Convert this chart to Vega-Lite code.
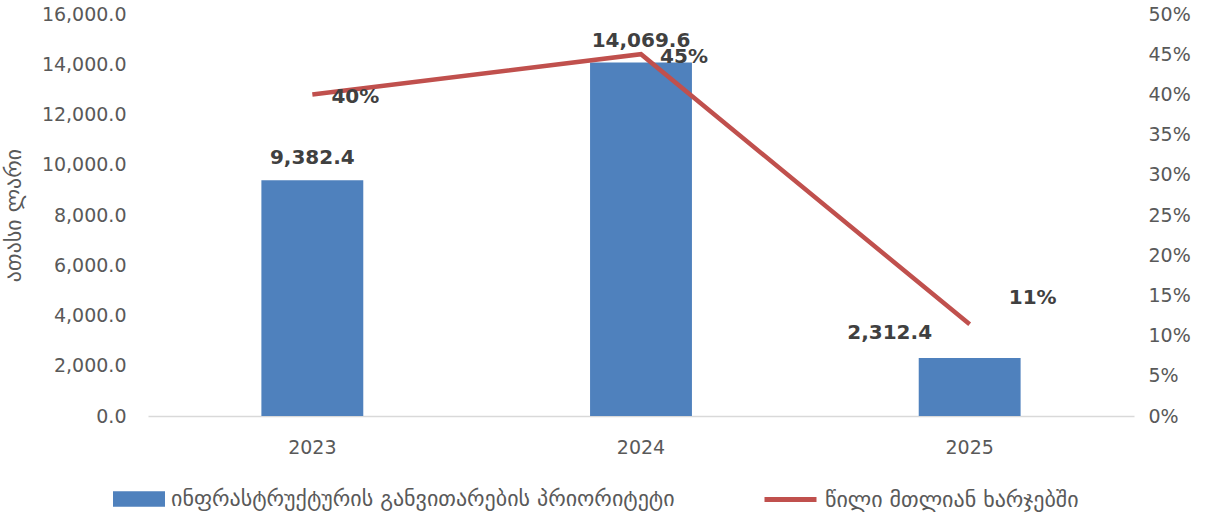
{
  "$schema": "https://vega.github.io/schema/vega-lite/v6.json",
  "autosize": "none",
  "width": 986,
  "height": 402,
  "padding": {"left": 148, "top": 14, "right": 76, "bottom": 103},
  "background": "white",
  "config": {
    "view": {"stroke": null},
    "font": "DejaVu Sans",
    "axis": {"grid": false, "ticks": false, "labelColor": "#595959", "labelFontSize": 19, "titleColor": "#595959", "labelFont": "DejaVu Sans", "titleFont": "DejaVu Sans"},
    "legend": {"labelFontSize": 22, "labelColor": "#595959", "labelFont": "DejaVu Sans", "labelLimit": 800, "labelOffset": 6}
  },
  "data": {
    "values": [
      {"year": "2023", "value": 9382.4, "share": 0.40, "s1": "ინფრასტრუქტურის განვითარების პრიორიტეტი", "s2": "წილი მთლიან ხარჯებში"},
      {"year": "2024", "value": 14069.6, "share": 0.45, "s1": "ინფრასტრუქტურის განვითარების პრიორიტეტი", "s2": "წილი მთლიან ხარჯებში"},
      {"year": "2025", "value": 2312.4, "share": 0.114, "s1": "ინფრასტრუქტურის განვითარების პრიორიტეტი", "s2": "წილი მთლიან ხარჯებში"}
    ]
  },
  "encoding": {
    "x": {"field": "year", "type": "nominal", "scale": {"type": "band", "paddingInner": 0.69, "paddingOuter": 0.345},
      "axis": {"title": null, "labelAngle": 0, "domainColor": "#D9D9D9", "domainWidth": 1.5, "labelPadding": 22}}
  },
  "layer": [
    {
      "layer": [
        {
          "mark": {"type": "bar", "color": "#4F81BD"},
          "encoding": {
            "y": {"field": "value", "type": "quantitative", "scale": {"domain": [0, 16000]},
              "axis": {"title": "ათასი ლარი", "titleFontSize": 22, "titleFontWeight": "normal", "titlePadding": 16, "format": ",.1f", "values": [0,2000,4000,6000,8000,10000,12000,14000,16000], "domain": false, "labelPadding": 22}},
            "fill": {"field": "s1", "type": "nominal", "scale": {"range": ["#4F81BD"]},
              "legend": {"title": null, "orient": "none", "legendX": -35, "legendY": 459, "symbolType": "M-1,-0.3H1V0.3H-1Z", "symbolSize": 2704, "symbolStrokeWidth": 0}}
          }
        },
        {
          "transform": [{"filter": "datum.year != '2025'"}],
          "mark": {"type": "text", "fontWeight": "bold", "fontSize": 20, "color": "#404040", "baseline": "bottom", "dy": -12},
          "encoding": {
            "y": {"field": "value", "type": "quantitative"},
            "text": {"field": "value", "type": "quantitative", "format": ",.1f"}
          }
        },
        {
          "transform": [{"filter": "datum.year == '2025'"}],
          "mark": {"type": "text", "fontWeight": "bold", "fontSize": 20, "color": "#404040", "baseline": "middle", "dx": -80, "dy": -25},
          "encoding": {
            "y": {"field": "value", "type": "quantitative"},
            "text": {"field": "value", "type": "quantitative", "format": ",.1f"}
          }
        }
      ]
    },
    {
      "layer": [
        {
          "mark": {"type": "line", "strokeWidth": 4.5, "color": "#C0504D"},
          "encoding": {
            "y": {"field": "share", "type": "quantitative", "scale": {"domain": [0, 0.5]},
              "axis": {"orient": "right", "title": null, "format": ".0%", "values": [0,0.05,0.1,0.15,0.2,0.25,0.3,0.35,0.4,0.45,0.5], "domain": false, "labelPadding": 14}},
            "stroke": {"field": "s2", "type": "nominal", "scale": {"range": ["#C0504D"]},
              "legend": {"title": null, "orient": "none", "legendX": 614, "legendY": 457, "symbolType": "stroke", "symbolSize": 2704, "symbolStrokeWidth": 5}}
          }
        },
        {
          "transform": [{"filter": "datum.year != '2025'"}],
          "mark": {"type": "text", "fontWeight": "bold", "fontSize": 20, "color": "#404040", "baseline": "middle", "dx": 43, "dy": 3},
          "encoding": {
            "y": {"field": "share", "type": "quantitative"},
            "text": {"field": "share", "type": "quantitative", "format": ".0%"}
          }
        },
        {
          "transform": [{"filter": "datum.year == '2025'"}],
          "mark": {"type": "text", "fontWeight": "bold", "fontSize": 20, "color": "#404040", "baseline": "middle", "dx": 63, "dy": -26},
          "encoding": {
            "y": {"field": "share", "type": "quantitative"},
            "text": {"field": "share", "type": "quantitative", "format": ".0%"}
          }
        }
      ]
    }
  ],
  "resolve": {"scale": {"y": "independent"}}
}
